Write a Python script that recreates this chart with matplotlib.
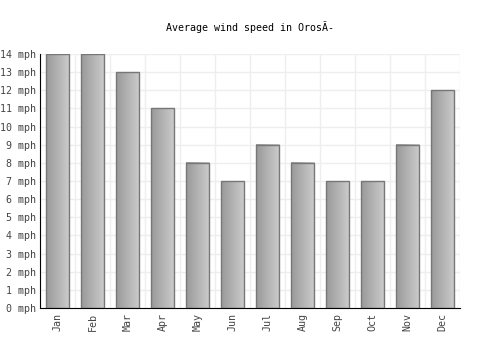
import numpy as np
import matplotlib.pyplot as plt

months = ['Jan', 'Feb', 'Mar', 'Apr', 'May', 'Jun', 'Jul', 'Aug', 'Sep', 'Oct', 'Nov', 'Dec']
wind_mph = [14, 14, 13, 11, 8, 7, 9, 8, 7, 7, 9, 12]
y_ticks = list(range(0, 15))

plt.rcParams['font.family'] = ['DejaVu Sans Mono']

fig = plt.figure(figsize=(5, 3.5), dpi=100)
ax = fig.add_axes([0.08, 0.12, 0.84, 0.7257])

# horizontal gradient, dark on the left, light on the right
grad = np.linspace(0.6, 0.8, 64).reshape(1, -1)
w = 0.67
x = np.arange(len(months))
for i, v in enumerate(wind_mph):
    ax.imshow(grad, extent=(i - w / 2, i + w / 2, 0, v), aspect='auto',
              cmap='gray', vmin=0, vmax=1, zorder=2)
ax.bar(x, wind_mph, width=w, facecolor='none', edgecolor='#777777', linewidth=1, zorder=3)

ax.set_xlim(-0.5, len(months) - 0.5)
ax.set_ylim(0, 14)
ax.set_xticks(x)
ax.set_xticklabels(months, rotation=90, fontsize=7.2, color='#444444')
ax.set_yticks(y_ticks)
ax.set_yticklabels([f'{t} mph' for t in y_ticks], fontsize=7.2, color='#444444')
ax.set_xticks(np.arange(-0.5, len(months) + 0.5, 1), minor=True)
ax.tick_params(which='both', length=0)
ax.tick_params(axis='y', pad=3)
ax.grid(True, which='major', axis='y', color='#eeeeee', linewidth=1, zorder=0)
ax.grid(True, which='minor', axis='x', color='#eeeeee', linewidth=1, zorder=0)
ax.set_axisbelow(True)

for s in ['top', 'right']:
    ax.spines[s].set_visible(False)
ax.spines['left'].set_color('black')
ax.spines['bottom'].set_color('black')

fig.text(0.5, 0.923, 'Average wind speed in OrosÃ-', ha='center', va='center',
         fontsize=7.2, color='black')

plt.savefig('out.png')
